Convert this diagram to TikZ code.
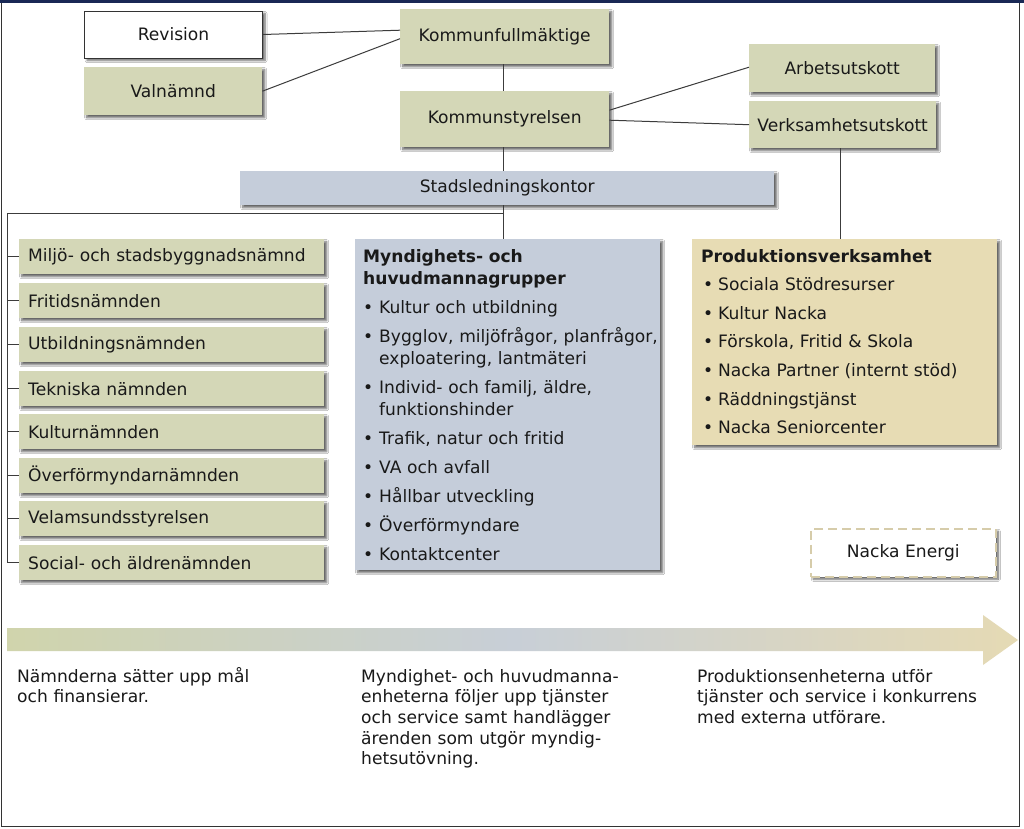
\documentclass[tikz,border=0pt]{standalone}
\usepackage{fontspec}
\setmainfont{DejaVu Sans}
\usetikzlibrary{shadows.blur,calc}
\definecolor{gr}{RGB}{212,215,183}
\definecolor{bl}{RGB}{197,205,218}
\definecolor{tn}{RGB}{231,220,180}
\definecolor{txt}{RGB}{25,25,25}
\definecolor{ln}{RGB}{60,60,60}
\definecolor{navy}{RGB}{25,40,85}
\definecolor{agr}{RGB}{208,212,172}
\definecolor{abl}{RGB}{200,207,215}
\definecolor{atn}{RGB}{229,218,180}
\definecolor{dsh}{RGB}{214,204,170}
\newcommand{\myfs}{\fontsize{17.1}{22}\selectfont}
\newcommand{\myitem}[2]{\par\hangindent=#1\hangafter=1\noindent\makebox[#1][l]{\hspace{#2}•}}
\begin{document}
\begin{tikzpicture}[x=1pt,y=-1pt,
  sh/.style={blur shadow={shadow xshift=2.5pt,shadow yshift=-2.5pt,shadow blur steps=6,shadow blur radius=2pt,shadow opacity=60}},
  box/.style={sh,fill=gr,draw=none,inner sep=0pt,text=txt,font=\myfs,anchor=north west},
  lbox/.style={box,text width=287pt,inner xsep=9pt,align=left,minimum height=35pt},
  conn/.style={draw=ln,line width=1pt},
  ttext/.style={text=txt,inner sep=0pt,anchor=base west,align=left}]
\useasboundingbox (0,0) rectangle (1024,828);
\fill[white] (0,0) rectangle (1024,828);
% frame
\draw[black!80,line width=1pt] (1.5,1.5) rectangle (1019,826.5);
\draw[navy,line width=3pt] (0,1.5) -- (1024,1.5);

% top nodes
\node[box,fill=white,draw=black!80,line width=1pt,minimum width=178pt,minimum height=47pt] (rev) at (84,10.5) {Revision};
\node[box,minimum width=178pt,minimum height=48pt] (val) at (84,67) {Valnämnd};
\node[box,minimum width=209pt,minimum height=55pt] (kf) at (400,9) {Kommunfullmäktige};
\node[box,minimum width=209pt,minimum height=56pt] (ks) at (400,91) {Kommunstyrelsen};
\node[box,minimum width=186pt,minimum height=48pt] (au) at (749,44) {Arbetsutskott};
\node[box,minimum width=187pt,minimum height=47pt] (vu) at (749,101) {Verksamhetsutskott};
\node[box,fill=bl,minimum width=534pt,minimum height=34pt] (stad) at (240,171) {Stadsledningskontor};

% left list
\node[lbox] (b1) at (19,239) {Miljö- och stadsbyggnadsnämnd};
\node[lbox] (b2) at (19,283) {Fritidsnämnden};
\node[lbox] (b3) at (19,327) {Utbildningsnämnden};
\node[lbox] (b4) at (19,371) {Tekniska nämnden};
\node[lbox] (b5) at (19,414) {Kulturnämnden};
\node[lbox] (b6) at (19,458) {Överförmyndarnämnden};
\node[lbox] (b7) at (19,501) {Velamsundsstyrelsen};
\node[lbox] (b8) at (19,545) {Social- och äldrenämnden};

% big boxes
\node[box,fill=bl,minimum width=305pt,minimum height=331pt] (myn) at (355,239) {};
\node[box,fill=tn,minimum width=305pt,minimum height=206pt] (prod) at (692,239) {};
\node[box,fill=white,draw=dsh,line width=1.5pt,dash pattern=on 9pt off 5pt,minimum width=185pt,minimum height=48pt] (ne) at (810,528) {Nacka Energi};

% box texts
\node[ttext,text width=310pt,font=\myfs] (myntxt) at (363,262) {\setlength{\parskip}{7pt}\noindent{\bfseries\fontsize{17.1}{21}\selectfont Myndighets- och\newline huvudmannagrupper}
\myitem{16pt}{0pt}Kultur och utbildning
\myitem{16pt}{0pt}Bygglov, miljöfrågor, planfrågor,\newline exploatering, lantmäteri
\myitem{16pt}{0pt}Individ- och familj, äldre,\newline funktionshinder
\myitem{16pt}{0pt}Trafik, natur och fritid
\myitem{16pt}{0pt}VA och avfall
\myitem{16pt}{0pt}Hållbar utveckling
\myitem{16pt}{0pt}Överförmyndare
\myitem{16pt}{0pt}Kontaktcenter\par};
\node[ttext,text width=310pt,font=\myfs] (prodtxt) at (701,262) {\setlength{\parskip}{6.6pt}\noindent{\bfseries Produktionsverksamhet}
\myitem{17pt}{2pt}Sociala Stödresurser
\myitem{17pt}{2pt}Kultur Nacka
\myitem{17pt}{2pt}Förskola, Fritid \& Skola
\myitem{17pt}{2pt}Nacka Partner (internt stöd)
\myitem{17pt}{2pt}Räddningstjänst
\myitem{17pt}{2pt}Nacka Seniorcenter\par};

% connectors
\draw[conn] (rev.east) -- ([yshift=6.5pt]kf.west);
\draw[conn] (val.east) -- ([yshift=-2pt]kf.west);
\draw[conn] ([xshift=-1.5pt]kf.south) -- ([xshift=-1.5pt]ks.north);
\draw[conn] ([yshift=9pt]ks.east) -- ([yshift=1pt]au.west);
\draw[conn] ([yshift=-1pt]ks.east) -- (vu.west);
\draw[conn] ([xshift=-1.5pt]ks.south) -- ([xshift=-1.5pt]ks.south |- stad.north);
\draw[conn] ([xshift=-1.5pt]ks.south |- stad.south) -- ([xshift=-1.5pt]ks.south |- myn.north);
\draw[conn] ([xshift=-2pt]vu.south) -- ([xshift=-2pt]vu.south |- prod.north);
\coordinate (lb) at (7,213);
\draw[conn] ([xshift=-1.5pt]ks.south |- lb) -- (lb) -- (lb |- b8.west) -- (b8.west);
\foreach \b in {b1,b2,b3,b4,b5,b6,b7}{\draw[conn] (lb |- \b.west) -- (\b.west);}

% arrow
\shade[shading=axis,left color=agr,right color=atn,middle color=abl]
  (7,628) -- (983,628) -- (983,615) -- (1018,640) -- (983,665) -- (983,651) -- (7,651) -- cycle;

% bottom texts
\node[ttext,text width=330pt,font=\fontsize{17.1}{20.7}\selectfont] (t1) at (17,682) {Nämnderna sätter upp mål\newline och finansierar.};
\node[ttext,text width=330pt,font=\fontsize{17.1}{20.7}\selectfont] (t2) at (361,682) {Myndighet- och huvudmanna-\newline enheterna följer upp tjänster\newline och service samt handlägger\newline ärenden som utgör myndig-\newline hetsutövning.};
\node[ttext,text width=330pt,font=\fontsize{17.1}{20.7}\selectfont] (t3) at (697,682) {Produktionsenheterna utför\newline tjänster och service i konkurrens\newline med externa utförare.};
\end{tikzpicture}
\end{document}
